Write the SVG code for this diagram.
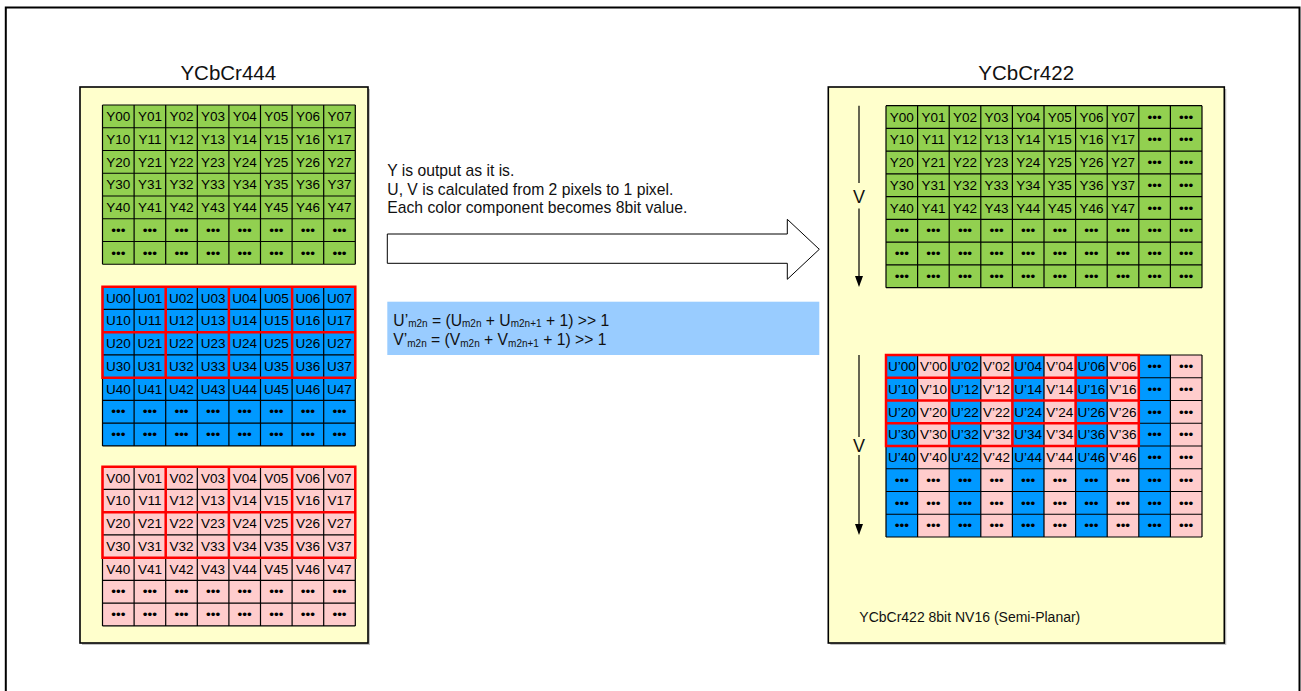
<svg xmlns="http://www.w3.org/2000/svg" xmlns:xlink="http://www.w3.org/1999/xlink" width="1301" height="691" viewBox="0 0 1301 691">
<style>
text{font-family:"Liberation Sans",Arial,sans-serif;fill:#111}
.cell{font-size:13.5px;text-anchor:middle;fill:#000}
.grid{fill:none;stroke:#000;stroke-width:1.2}
.red{fill:none;stroke:#f00;stroke-width:2.5}
.panel{fill:#ffffcc;stroke:#000;stroke-width:1.6}
.shadow{fill:#9a9a9a;opacity:0.6}
.title{font-size:20.5px;text-anchor:middle}
.note{font-size:15.7px}
.vl{font-size:18px;text-anchor:middle}
.ln{stroke:#000;stroke-width:1.2;fill:none}
</style>
<defs>
<path id="g8" d="M0 0V159.25M31.6 0V159.25M63.2 0V159.25M94.8 0V159.25M126.4 0V159.25M158 0V159.25M189.6 0V159.25M221.2 0V159.25M252.8 0V159.25M0 0H252.8M0 22.75H252.8M0 45.5H252.8M0 68.25H252.8M0 91H252.8M0 113.75H252.8M0 136.5H252.8M0 159.25H252.8"/>
<path id="g10" d="M0 0V182M31.6 0V182M63.2 0V182M94.8 0V182M126.4 0V182M158 0V182M189.6 0V182M221.2 0V182M252.8 0V182M284.4 0V182M316 0V182M0 0H316M0 22.75H316M0 45.5H316M0 68.25H316M0 91H316M0 113.75H316M0 136.5H316M0 159.25H316M0 182H316"/>
<path id="r22" d="M0 0H63.2V45.5H0ZM63.2 0H126.4V45.5H63.2ZM126.4 0H189.6V45.5H126.4ZM189.6 0H252.8V45.5H189.6ZM0 45.5H63.2V91H0ZM63.2 45.5H126.4V91H63.2ZM126.4 45.5H189.6V91H126.4ZM189.6 45.5H252.8V91H189.6Z"/>
<path id="r21" d="M0 0H63.2V22.75H0ZM63.2 0H126.4V22.75H63.2ZM126.4 0H189.6V22.75H126.4ZM189.6 0H252.8V22.75H189.6ZM0 22.75H63.2V45.5H0ZM63.2 22.75H126.4V45.5H63.2ZM126.4 22.75H189.6V45.5H126.4ZM189.6 22.75H252.8V45.5H189.6ZM0 45.5H63.2V68.25H0ZM63.2 45.5H126.4V68.25H63.2ZM126.4 45.5H189.6V68.25H126.4ZM189.6 45.5H252.8V68.25H189.6ZM0 68.25H63.2V91H0ZM63.2 68.25H126.4V91H63.2ZM126.4 68.25H189.6V91H126.4ZM189.6 68.25H252.8V91H189.6Z"/>
</defs>
<rect x="0" y="0" width="1301" height="691" fill="#fff"/>
<rect x="5.8" y="7.5" width="1293.7" height="700" fill="none" stroke="#000" stroke-width="2"/>

<g id="panel-444">
<rect class="shadow" x="82" y="89" width="288" height="556"/>
<rect class="panel" x="80" y="87" width="288" height="556"/>
<text class="title" x="228.3" y="80">YCbCr444</text>
</g>

<g id="panel-422">
<rect class="shadow" x="830.3" y="89" width="396" height="556"/>
<rect class="panel" x="828.3" y="87" width="396" height="556"/>
<text class="title" x="1026.2" y="80">YCbCr422</text>
<text x="859.3" y="622" style="font-size:14px">YCbCr422 8bit NV16 (Semi-Planar)</text>
</g>

<g id="y444" transform="translate(102.5,105)">
<rect x="0" y="0" width="252.8" height="159.25" fill="#92d050"/>
<use xlink:href="#g8" class="grid"/>
<text class="cell" y="16"><tspan x="15.8">Y00</tspan><tspan x="47.4">Y01</tspan><tspan x="79">Y02</tspan><tspan x="110.6">Y03</tspan><tspan x="142.2">Y04</tspan><tspan x="173.8">Y05</tspan><tspan x="205.4">Y06</tspan><tspan x="237">Y07</tspan></text>
<text class="cell" y="38.75"><tspan x="15.8">Y10</tspan><tspan x="47.4">Y11</tspan><tspan x="79">Y12</tspan><tspan x="110.6">Y13</tspan><tspan x="142.2">Y14</tspan><tspan x="173.8">Y15</tspan><tspan x="205.4">Y16</tspan><tspan x="237">Y17</tspan></text>
<text class="cell" y="61.5"><tspan x="15.8">Y20</tspan><tspan x="47.4">Y21</tspan><tspan x="79">Y22</tspan><tspan x="110.6">Y23</tspan><tspan x="142.2">Y24</tspan><tspan x="173.8">Y25</tspan><tspan x="205.4">Y26</tspan><tspan x="237">Y27</tspan></text>
<text class="cell" y="84.25"><tspan x="15.8">Y30</tspan><tspan x="47.4">Y31</tspan><tspan x="79">Y32</tspan><tspan x="110.6">Y33</tspan><tspan x="142.2">Y34</tspan><tspan x="173.8">Y35</tspan><tspan x="205.4">Y36</tspan><tspan x="237">Y37</tspan></text>
<text class="cell" y="107"><tspan x="15.8">Y40</tspan><tspan x="47.4">Y41</tspan><tspan x="79">Y42</tspan><tspan x="110.6">Y43</tspan><tspan x="142.2">Y44</tspan><tspan x="173.8">Y45</tspan><tspan x="205.4">Y46</tspan><tspan x="237">Y47</tspan></text>
<text class="cell" y="129.75"><tspan x="15.8">•••</tspan><tspan x="47.4">•••</tspan><tspan x="79">•••</tspan><tspan x="110.6">•••</tspan><tspan x="142.2">•••</tspan><tspan x="173.8">•••</tspan><tspan x="205.4">•••</tspan><tspan x="237">•••</tspan></text>
<text class="cell" y="152.5"><tspan x="15.8">•••</tspan><tspan x="47.4">•••</tspan><tspan x="79">•••</tspan><tspan x="110.6">•••</tspan><tspan x="142.2">•••</tspan><tspan x="173.8">•••</tspan><tspan x="205.4">•••</tspan><tspan x="237">•••</tspan></text>
</g>

<g id="u444" transform="translate(102.5,286.7)">
<rect x="0" y="0" width="252.8" height="159.25" fill="#0099ff"/>
<use xlink:href="#g8" class="grid"/>
<text class="cell" y="16"><tspan x="15.8">U00</tspan><tspan x="47.4">U01</tspan><tspan x="79">U02</tspan><tspan x="110.6">U03</tspan><tspan x="142.2">U04</tspan><tspan x="173.8">U05</tspan><tspan x="205.4">U06</tspan><tspan x="237">U07</tspan></text>
<text class="cell" y="38.75"><tspan x="15.8">U10</tspan><tspan x="47.4">U11</tspan><tspan x="79">U12</tspan><tspan x="110.6">U13</tspan><tspan x="142.2">U14</tspan><tspan x="173.8">U15</tspan><tspan x="205.4">U16</tspan><tspan x="237">U17</tspan></text>
<text class="cell" y="61.5"><tspan x="15.8">U20</tspan><tspan x="47.4">U21</tspan><tspan x="79">U22</tspan><tspan x="110.6">U23</tspan><tspan x="142.2">U24</tspan><tspan x="173.8">U25</tspan><tspan x="205.4">U26</tspan><tspan x="237">U27</tspan></text>
<text class="cell" y="84.25"><tspan x="15.8">U30</tspan><tspan x="47.4">U31</tspan><tspan x="79">U32</tspan><tspan x="110.6">U33</tspan><tspan x="142.2">U34</tspan><tspan x="173.8">U35</tspan><tspan x="205.4">U36</tspan><tspan x="237">U37</tspan></text>
<text class="cell" y="107"><tspan x="15.8">U40</tspan><tspan x="47.4">U41</tspan><tspan x="79">U42</tspan><tspan x="110.6">U43</tspan><tspan x="142.2">U44</tspan><tspan x="173.8">U45</tspan><tspan x="205.4">U46</tspan><tspan x="237">U47</tspan></text>
<text class="cell" y="129.75"><tspan x="15.8">•••</tspan><tspan x="47.4">•••</tspan><tspan x="79">•••</tspan><tspan x="110.6">•••</tspan><tspan x="142.2">•••</tspan><tspan x="173.8">•••</tspan><tspan x="205.4">•••</tspan><tspan x="237">•••</tspan></text>
<text class="cell" y="152.5"><tspan x="15.8">•••</tspan><tspan x="47.4">•••</tspan><tspan x="79">•••</tspan><tspan x="110.6">•••</tspan><tspan x="142.2">•••</tspan><tspan x="173.8">•••</tspan><tspan x="205.4">•••</tspan><tspan x="237">•••</tspan></text>
<use xlink:href="#r22" class="red"/>
</g>

<g id="v444" transform="translate(102.5,466.7)">
<rect x="0" y="0" width="252.8" height="159.25" fill="#ffcccc"/>
<use xlink:href="#g8" class="grid"/>
<text class="cell" y="16"><tspan x="15.8">V00</tspan><tspan x="47.4">V01</tspan><tspan x="79">V02</tspan><tspan x="110.6">V03</tspan><tspan x="142.2">V04</tspan><tspan x="173.8">V05</tspan><tspan x="205.4">V06</tspan><tspan x="237">V07</tspan></text>
<text class="cell" y="38.75"><tspan x="15.8">V10</tspan><tspan x="47.4">V11</tspan><tspan x="79">V12</tspan><tspan x="110.6">V13</tspan><tspan x="142.2">V14</tspan><tspan x="173.8">V15</tspan><tspan x="205.4">V16</tspan><tspan x="237">V17</tspan></text>
<text class="cell" y="61.5"><tspan x="15.8">V20</tspan><tspan x="47.4">V21</tspan><tspan x="79">V22</tspan><tspan x="110.6">V23</tspan><tspan x="142.2">V24</tspan><tspan x="173.8">V25</tspan><tspan x="205.4">V26</tspan><tspan x="237">V27</tspan></text>
<text class="cell" y="84.25"><tspan x="15.8">V30</tspan><tspan x="47.4">V31</tspan><tspan x="79">V32</tspan><tspan x="110.6">V33</tspan><tspan x="142.2">V34</tspan><tspan x="173.8">V35</tspan><tspan x="205.4">V36</tspan><tspan x="237">V37</tspan></text>
<text class="cell" y="107"><tspan x="15.8">V40</tspan><tspan x="47.4">V41</tspan><tspan x="79">V42</tspan><tspan x="110.6">V43</tspan><tspan x="142.2">V44</tspan><tspan x="173.8">V45</tspan><tspan x="205.4">V46</tspan><tspan x="237">V47</tspan></text>
<text class="cell" y="129.75"><tspan x="15.8">•••</tspan><tspan x="47.4">•••</tspan><tspan x="79">•••</tspan><tspan x="110.6">•••</tspan><tspan x="142.2">•••</tspan><tspan x="173.8">•••</tspan><tspan x="205.4">•••</tspan><tspan x="237">•••</tspan></text>
<text class="cell" y="152.5"><tspan x="15.8">•••</tspan><tspan x="47.4">•••</tspan><tspan x="79">•••</tspan><tspan x="110.6">•••</tspan><tspan x="142.2">•••</tspan><tspan x="173.8">•••</tspan><tspan x="205.4">•••</tspan><tspan x="237">•••</tspan></text>
<use xlink:href="#r22" class="red"/>
</g>

<g id="y422" transform="translate(886,105.7)">
<rect x="0" y="0" width="316" height="182" fill="#92d050"/>
<use xlink:href="#g10" class="grid"/>
<text class="cell" y="16"><tspan x="15.8">Y00</tspan><tspan x="47.4">Y01</tspan><tspan x="79">Y02</tspan><tspan x="110.6">Y03</tspan><tspan x="142.2">Y04</tspan><tspan x="173.8">Y05</tspan><tspan x="205.4">Y06</tspan><tspan x="237">Y07</tspan><tspan x="268.6">•••</tspan><tspan x="300.2">•••</tspan></text>
<text class="cell" y="38.75"><tspan x="15.8">Y10</tspan><tspan x="47.4">Y11</tspan><tspan x="79">Y12</tspan><tspan x="110.6">Y13</tspan><tspan x="142.2">Y14</tspan><tspan x="173.8">Y15</tspan><tspan x="205.4">Y16</tspan><tspan x="237">Y17</tspan><tspan x="268.6">•••</tspan><tspan x="300.2">•••</tspan></text>
<text class="cell" y="61.5"><tspan x="15.8">Y20</tspan><tspan x="47.4">Y21</tspan><tspan x="79">Y22</tspan><tspan x="110.6">Y23</tspan><tspan x="142.2">Y24</tspan><tspan x="173.8">Y25</tspan><tspan x="205.4">Y26</tspan><tspan x="237">Y27</tspan><tspan x="268.6">•••</tspan><tspan x="300.2">•••</tspan></text>
<text class="cell" y="84.25"><tspan x="15.8">Y30</tspan><tspan x="47.4">Y31</tspan><tspan x="79">Y32</tspan><tspan x="110.6">Y33</tspan><tspan x="142.2">Y34</tspan><tspan x="173.8">Y35</tspan><tspan x="205.4">Y36</tspan><tspan x="237">Y37</tspan><tspan x="268.6">•••</tspan><tspan x="300.2">•••</tspan></text>
<text class="cell" y="107"><tspan x="15.8">Y40</tspan><tspan x="47.4">Y41</tspan><tspan x="79">Y42</tspan><tspan x="110.6">Y43</tspan><tspan x="142.2">Y44</tspan><tspan x="173.8">Y45</tspan><tspan x="205.4">Y46</tspan><tspan x="237">Y47</tspan><tspan x="268.6">•••</tspan><tspan x="300.2">•••</tspan></text>
<text class="cell" y="129.75"><tspan x="15.8">•••</tspan><tspan x="47.4">•••</tspan><tspan x="79">•••</tspan><tspan x="110.6">•••</tspan><tspan x="142.2">•••</tspan><tspan x="173.8">•••</tspan><tspan x="205.4">•••</tspan><tspan x="237">•••</tspan><tspan x="268.6">•••</tspan><tspan x="300.2">•••</tspan></text>
<text class="cell" y="152.5"><tspan x="15.8">•••</tspan><tspan x="47.4">•••</tspan><tspan x="79">•••</tspan><tspan x="110.6">•••</tspan><tspan x="142.2">•••</tspan><tspan x="173.8">•••</tspan><tspan x="205.4">•••</tspan><tspan x="237">•••</tspan><tspan x="268.6">•••</tspan><tspan x="300.2">•••</tspan></text>
<text class="cell" y="175.25"><tspan x="15.8">•••</tspan><tspan x="47.4">•••</tspan><tspan x="79">•••</tspan><tspan x="110.6">•••</tspan><tspan x="142.2">•••</tspan><tspan x="173.8">•••</tspan><tspan x="205.4">•••</tspan><tspan x="237">•••</tspan><tspan x="268.6">•••</tspan><tspan x="300.2">•••</tspan></text>
</g>

<g id="uv422" transform="translate(886,355)">
<rect x="0" y="0" width="316" height="182" fill="#ffcccc"/>
<rect x="0" y="0" width="31.6" height="182" fill="#0099ff"/>
<rect x="63.2" y="0" width="31.6" height="182" fill="#0099ff"/>
<rect x="126.4" y="0" width="31.6" height="182" fill="#0099ff"/>
<rect x="189.6" y="0" width="31.6" height="182" fill="#0099ff"/>
<rect x="252.8" y="0" width="31.6" height="182" fill="#0099ff"/>
<use xlink:href="#g10" class="grid"/>
<text class="cell" y="16"><tspan x="15.8">U’00</tspan><tspan x="47.4">V’00</tspan><tspan x="79">U’02</tspan><tspan x="110.6">V’02</tspan><tspan x="142.2">U’04</tspan><tspan x="173.8">V’04</tspan><tspan x="205.4">U’06</tspan><tspan x="237">V’06</tspan><tspan x="268.6">•••</tspan><tspan x="300.2">•••</tspan></text>
<text class="cell" y="38.75"><tspan x="15.8">U’10</tspan><tspan x="47.4">V’10</tspan><tspan x="79">U’12</tspan><tspan x="110.6">V’12</tspan><tspan x="142.2">U’14</tspan><tspan x="173.8">V’14</tspan><tspan x="205.4">U’16</tspan><tspan x="237">V’16</tspan><tspan x="268.6">•••</tspan><tspan x="300.2">•••</tspan></text>
<text class="cell" y="61.5"><tspan x="15.8">U’20</tspan><tspan x="47.4">V’20</tspan><tspan x="79">U’22</tspan><tspan x="110.6">V’22</tspan><tspan x="142.2">U’24</tspan><tspan x="173.8">V’24</tspan><tspan x="205.4">U’26</tspan><tspan x="237">V’26</tspan><tspan x="268.6">•••</tspan><tspan x="300.2">•••</tspan></text>
<text class="cell" y="84.25"><tspan x="15.8">U’30</tspan><tspan x="47.4">V’30</tspan><tspan x="79">U’32</tspan><tspan x="110.6">V’32</tspan><tspan x="142.2">U’34</tspan><tspan x="173.8">V’34</tspan><tspan x="205.4">U’36</tspan><tspan x="237">V’36</tspan><tspan x="268.6">•••</tspan><tspan x="300.2">•••</tspan></text>
<text class="cell" y="107"><tspan x="15.8">U’40</tspan><tspan x="47.4">V’40</tspan><tspan x="79">U’42</tspan><tspan x="110.6">V’42</tspan><tspan x="142.2">U’44</tspan><tspan x="173.8">V’44</tspan><tspan x="205.4">U’46</tspan><tspan x="237">V’46</tspan><tspan x="268.6">•••</tspan><tspan x="300.2">•••</tspan></text>
<text class="cell" y="129.75"><tspan x="15.8">•••</tspan><tspan x="47.4">•••</tspan><tspan x="79">•••</tspan><tspan x="110.6">•••</tspan><tspan x="142.2">•••</tspan><tspan x="173.8">•••</tspan><tspan x="205.4">•••</tspan><tspan x="237">•••</tspan><tspan x="268.6">•••</tspan><tspan x="300.2">•••</tspan></text>
<text class="cell" y="152.5"><tspan x="15.8">•••</tspan><tspan x="47.4">•••</tspan><tspan x="79">•••</tspan><tspan x="110.6">•••</tspan><tspan x="142.2">•••</tspan><tspan x="173.8">•••</tspan><tspan x="205.4">•••</tspan><tspan x="237">•••</tspan><tspan x="268.6">•••</tspan><tspan x="300.2">•••</tspan></text>
<text class="cell" y="175.25"><tspan x="15.8">•••</tspan><tspan x="47.4">•••</tspan><tspan x="79">•••</tspan><tspan x="110.6">•••</tspan><tspan x="142.2">•••</tspan><tspan x="173.8">•••</tspan><tspan x="205.4">•••</tspan><tspan x="237">•••</tspan><tspan x="268.6">•••</tspan><tspan x="300.2">•••</tspan></text>
<use xlink:href="#r21" class="red"/>
</g>

<g id="description">
<text class="note" x="387.3" y="175.7">Y is output as it is.</text>
<text class="note" x="387.3" y="194.5">U, V is calculated from 2 pixels to 1 pixel.</text>
<text class="note" x="387.3" y="213.3">Each color component becomes 8bit value.</text>
</g>

<g id="formula">
<rect x="387.3" y="301.7" width="432" height="53.3" fill="#99ccff"/>
<text class="note" x="393.3" y="325.7">U’<tspan font-size="10" dy="1.5">m2n</tspan><tspan dy="-1.5"> = (U</tspan><tspan font-size="10" dy="1.5">m2n</tspan><tspan dy="-1.5"> + U</tspan><tspan font-size="10" dy="1.5">m2n+1</tspan><tspan dy="-1.5"> + 1) &gt;&gt; 1</tspan></text>
<text class="note" x="393.3" y="345.2">V’<tspan font-size="10" dy="1.5">m2n</tspan><tspan dy="-1.5"> = (V</tspan><tspan font-size="10" dy="1.5">m2n</tspan><tspan dy="-1.5"> + V</tspan><tspan font-size="10" dy="1.5">m2n+1</tspan><tspan dy="-1.5"> + 1) &gt;&gt; 1</tspan></text>
</g>

<g id="connectors">
<polygon points="387.3,234 787.3,234 787.3,219.3 819.3,249.3 787.3,279.3 787.3,263.3 387.3,263.3" fill="#fff" stroke="#000" stroke-width="1"/>
<path class="ln" d="M859 105.7V183M859 208.5V278"/>
<polygon points="855,276 863,276 859,287" fill="#000"/>
<text class="vl" x="859" y="203">V</text>
<path class="ln" d="M859 355V437M859 455V526"/>
<polygon points="855,524 863,524 859,535" fill="#000"/>
<text class="vl" x="859" y="451.5">V</text>
</g>
</svg>
